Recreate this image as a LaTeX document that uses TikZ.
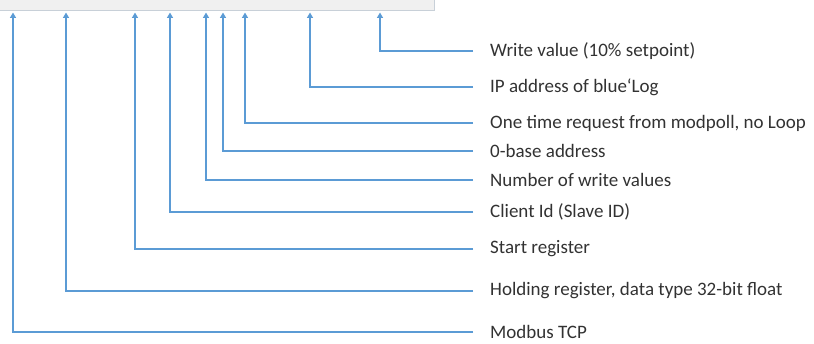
\documentclass[tikz,border=0pt]{standalone}
\usepackage{fontspec}
\setmainfont{Carlito}
\usetikzlibrary{arrows.meta}
\definecolor{lineblue}{RGB}{91,155,213}
\definecolor{txtgray}{RGB}{50,50,50}
\definecolor{boxfill}{RGB}{240,240,240}
\definecolor{boxedge}{RGB}{200,208,216}
\tikzset{
  conn/.style={draw=lineblue, line width=2pt, -{Triangle[length=5.5pt,width=6pt]}},
  lbl/.style={anchor=west, inner sep=0pt, text=txtgray, font=\fontsize{19}{21}\selectfont},
  panel/.style={draw=boxedge, fill=boxfill, line width=1pt, minimum width=450pt, minimum height=40pt, anchor=south east, inner sep=0pt}
}
\begin{document}
\begin{tikzpicture}[x=1pt,y=-1pt]
\useasboundingbox (0,0) rectangle (814,344);
\node[panel] (box) at (435,11.5) {};
\coordinate (t1) at (13,12.5);
\coordinate (t2) at (66,12.5);
\coordinate (t3) at (135,12.5);
\coordinate (t4) at (170,12.5);
\coordinate (t5) at (206,12.5);
\coordinate (t6) at (223,12.5);
\coordinate (t7) at (245,12.5);
\coordinate (t8) at (310,12.5);
\coordinate (t9) at (380,12.5);
\node[lbl] (l9) at (490,51) {Write value (10\% setpoint)};
\node[lbl] (l8) at (490,87.5) {IP address of blue‘Log};
\node[lbl] (l7) at (490,123) {One time request from modpoll, no Loop};
\node[lbl] (l6) at (490,151) {0-base address};
\node[lbl] (l5) at (490,180) {Number of write values};
\node[lbl] (l4) at (490,212) {Client Id (Slave ID)};
\node[lbl] (l3) at (490,249) {Start register};
\node[lbl] (l2) at (490,291) {Holding register, data type 32-bit float};
\node[lbl] (l1) at (490,332) {Modbus TCP};
\draw[conn] ([xshift=-17pt]l9.west) -| (t9);
\draw[conn] ([xshift=-17pt]l8.west) -| (t8);
\draw[conn] ([xshift=-17pt]l7.west) -| (t7);
\draw[conn] ([xshift=-17pt]l6.west) -| (t6);
\draw[conn] ([xshift=-17pt]l5.west) -| (t5);
\draw[conn] ([xshift=-17pt]l4.west) -| (t4);
\draw[conn] ([xshift=-17pt]l3.west) -| (t3);
\draw[conn] ([xshift=-17pt]l2.west) -| (t2);
\draw[conn] ([xshift=-17pt]l1.west) -| (t1);
\end{tikzpicture}
\end{document}
